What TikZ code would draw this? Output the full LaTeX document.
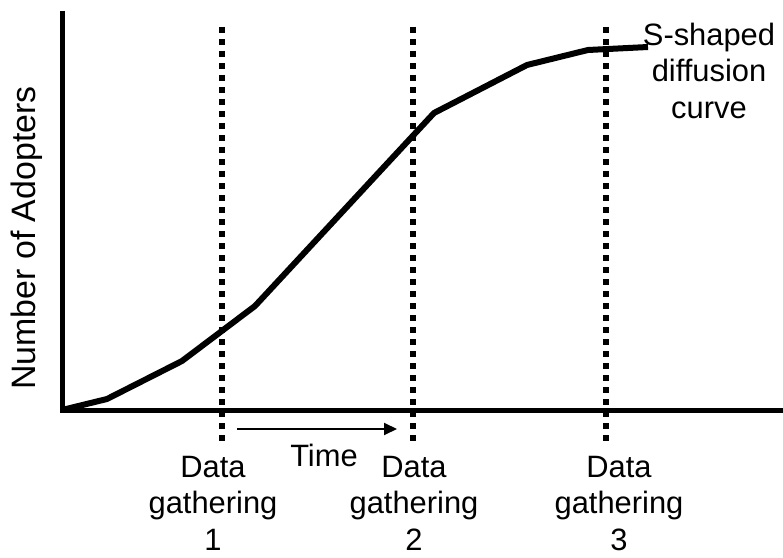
\documentclass[tikz,border=0pt]{standalone}
\usepackage{fontspec}
\setmainfont{Liberation Sans}
\usetikzlibrary{arrows.meta}
\begin{document}
\begin{tikzpicture}[x=1bp,y=-1bp,
  axis/.style={line width=5bp, line join=miter},
  scurve/.style={line width=6bp, line join=round},
  gather/.style={line width=5.5bp, dash pattern=on 6bp off 6bp},
  lbl/.style={font=\fontsize{31}{36.5}\selectfont, align=center, inner sep=0pt},
  ylbl/.style={font=\fontsize{34}{40}\selectfont, inner sep=0pt, rotate=90},
]
\useasboundingbox (0,0) rectangle (783,558);
% axes
\coordinate (o) at (62,410);
\coordinate (ytop) at (62,11);
\coordinate (xend) at (783,410);
\draw[axis] (ytop) -- (o) -- (xend);
% S-shaped curve
\coordinate (c1) at (107,399);
\coordinate (c2) at (182,361);
\coordinate (c3) at (255,306);
\coordinate (c4) at (434,113);
\coordinate (c5) at (527,65);
\coordinate (c6) at (588,50);
\coordinate (c7) at (648,47);
\draw[scurve] (o) -- (c1) -- (c2) -- (c3) -- (c4) -- (c5) -- (c6) -- (c7);
% data gathering lines
\coordinate (g1t) at (222,27); \coordinate (g1b) at (222,441);
\coordinate (g2t) at (413,27); \coordinate (g2b) at (413,441);
\coordinate (g3t) at (606,27); \coordinate (g3b) at (606,441);
\draw[gather] (g1t) -- (g1b);
\draw[gather] (g2t) -- (g2b);
\draw[gather] (g3t) -- (g3b);
% time arrow
\coordinate (ta) at (237,429);
\coordinate (tb) at (397,429);
\draw[line width=2bp, -{Triangle[length=13bp,width=12bp]}] (ta) -- (tb);
% labels
\node[lbl, anchor=north] (time) at (324,444) {Time};
\node[lbl, anchor=north] (d1) at (213,456) {Data\\gathering\\1};
\node[lbl, anchor=north] (d2) at (414,456) {Data\\gathering\\2};
\node[lbl, anchor=north] (d3) at (619,456) {Data\\gathering\\3};
\node[lbl, anchor=north] (sc) at (709,23) {S-shaped\\diffusion\\curve};
\node[ylbl] (yl) at (27,238) {Number of Adopters};
\end{tikzpicture}
\end{document}
